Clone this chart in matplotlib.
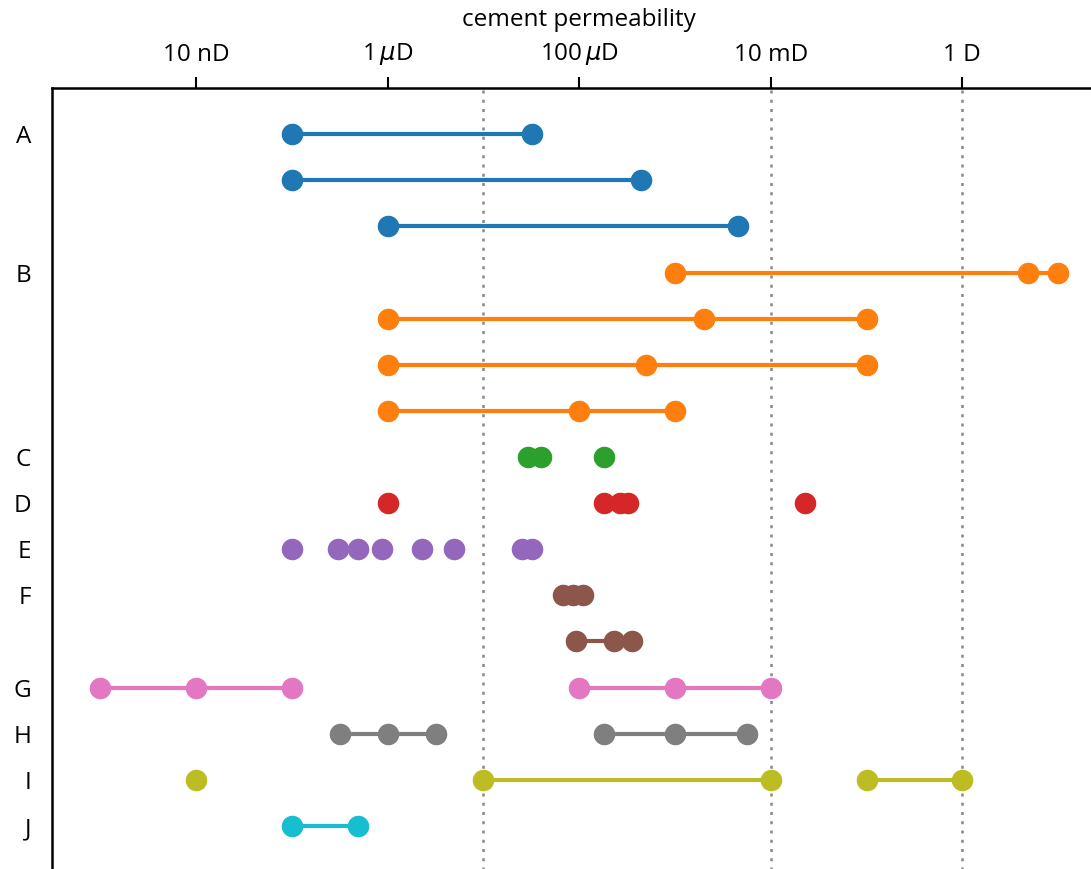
import matplotlib
matplotlib.use('Agg')
import matplotlib.pyplot as plt

plt.rcParams['font.family'] = ['Open Sans', 'DejaVu Sans']

# row labels (rows without a label continue the group above)
row_labels = ['A', '', '', 'B', '', '', '', 'C', 'D', 'E', 'F', '', 'G', 'H', 'I', 'J']
group_colors = {'A': 'tab:blue', 'B': 'tab:orange', 'C': 'tab:green', 'D': 'tab:red',
                'E': 'tab:purple', 'F': 'tab:brown', 'G': 'tab:pink', 'H': 'tab:gray',
                'I': 'tab:olive', 'J': 'tab:cyan'}

# permeability in darcy; each row is a list of segments, a segment is a list of values
# segments with more than one value are joined by a line
rows = [
    [[1e-7, 3.2e-5]],
    [[1e-7, 4.4e-4]],
    [[1e-6, 4.6e-3]],
    [[1e-3, 4.9, 10.0]],
    [[1e-6, 2e-3, 0.1]],
    [[1e-6, 5e-4, 0.1]],
    [[1e-6, 1e-4, 1e-3]],
    [[2.9e-5], [4e-5], [1.8e-4]],
    [[1e-6], [1.8e-4], [2.7e-4], [3.2e-4], [0.023]],
    [[1e-7], [3e-7], [4.9e-7], [8.8e-7], [2.3e-6], [4.9e-6], [2.5e-5], [3.2e-5]],
    [[6.8e-5], [8.7e-5], [1.1e-4]],
    [[9.2e-5, 2.3e-4, 3.6e-4]],
    [[1e-9, 1e-8, 1e-7], [1e-4, 1e-3, 1e-2]],
    [[3.2e-7, 1e-6, 3.2e-6], [1.8e-4, 1e-3, 5.7e-3]],
    [[1e-8], [1e-5, 1e-2], [0.1, 1.0]],
    [[1e-7, 4.9e-7]],
]

tick_vals = [1e-8, 1e-6, 1e-4, 1e-2, 1.0]
tick_text = ['10 nD', r'1$\,\mu$D', r'100$\,\mu$D', '10 mD', '1 D']
guide_vals = [1e-5, 1e-2, 1.0]

fig = plt.figure(figsize=(10.91, 8.69), dpi=100)
ax = fig.add_axes([0.0477, -0.0035, 0.966, 0.9022])

color = None
for i, segs in enumerate(rows):
    if row_labels[i]:
        color = group_colors[row_labels[i]]
    for seg in segs:
        ax.plot(seg, [i] * len(seg), '-o', color=color, lw=3, ms=14.5,
                solid_capstyle='round', zorder=3)

for g in guide_vals:
    ax.axvline(g, color='#888888', ls=(0, (1.2, 2.5)), lw=1.8, zorder=1)

ax.set_xscale('log')
ax.set_xlim(10 ** -9.504, 10 ** 1.5)
ax.set_ylim(16, -1)

ax.xaxis.tick_top()
ax.xaxis.set_label_position('top')
ax.set_xticks(tick_vals)
ax.set_xticklabels(tick_text)
ax.minorticks_off()
ax.tick_params(axis='x', which='major', length=8, width=1.5, labelsize=17.5, pad=7)
ax.set_xlabel('cement permeability', fontsize=17.5, labelpad=11)

ax.set_yticks(range(len(row_labels)))
ax.set_yticklabels(row_labels)
ax.tick_params(axis='y', length=0, labelsize=17.5, pad=15)

for s in ax.spines.values():
    s.set_linewidth(1.8)

fig.savefig('out.png', dpi=100)
